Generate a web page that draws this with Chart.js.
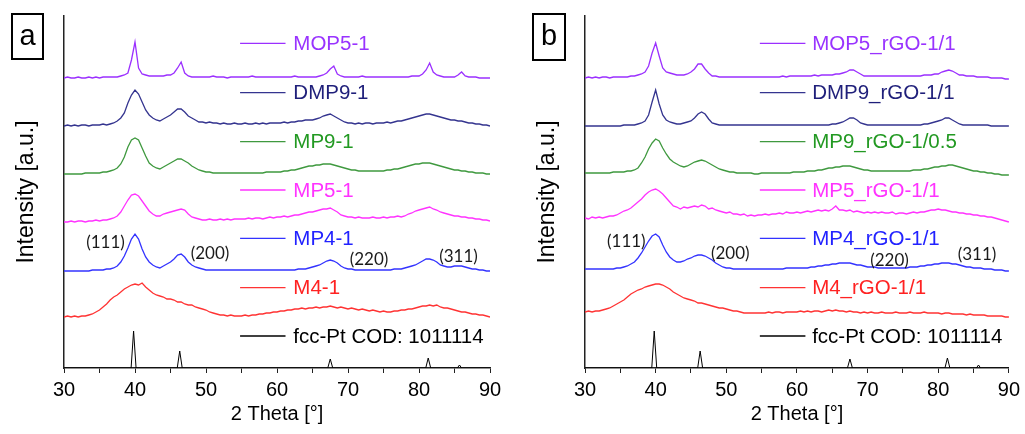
<!DOCTYPE html>
<html><head><meta charset="utf-8">
<script src="https://cdn.jsdelivr.net/npm/chart.js@4/dist/chart.umd.min.js"></script>
<style>
html,body{margin:0;padding:0;background:#fff;}
#wrap{position:relative;width:1025px;height:434px;overflow:hidden;}
#chartA{position:absolute;left:0;top:0;}
#chartB{position:absolute;left:512px;top:0;}
</style></head><body>
<div id="wrap"><canvas id="chartA" width="512" height="434"></canvas><canvas id="chartB" width="513" height="434"></canvas></div>
<script>
// ---------- DATA ----------
const twoTheta = [30,30.5,31,31.5,32,32.5,33,33.5,34,34.5,
 35,35.5,36,36.5,37,37.5,38,38.5,39,39.5,
 40,40.5,41,41.5,42,42.5,43,43.5,44,44.5,
 45,45.5,46,46.5,47,47.5,48,48.5,49,49.5,
 50,50.5,51,51.5,52,52.5,53,53.5,54,54.5,
 55,55.5,56,56.5,57,57.5,58,58.5,59,59.5,
 60,60.5,61,61.5,62,62.5,63,63.5,64,64.5,
 65,65.5,66,66.5,67,67.5,68,68.5,69,69.5,
 70,70.5,71,71.5,72,72.5,73,73.5,74,74.5,
 75,75.5,76,76.5,77,77.5,78,78.5,79,79.5,
 80,80.5,81,81.5,82,82.5,83,83.5,84,84.5,
 85,85.5,86,86.5,87,87.5,88,88.5,89,89.5,
 90];
const xTicks = [30,40,50,60,70,80,90];

const namesA = ['MOP5-1','DMP9-1','MP9-1','MP5-1','MP4-1','M4-1'];
const namesB = ['MOP5_rGO-1/1','DMP9_rGO-1/1','MP9_rGO-1/0.5','MP5_rGO-1/1','MP4_rGO-1/1','M4_rGO-1/1'];
const refName = 'fcc-Pt COD: 1011114';
const offsets = [290,242,194,146,97,51];

const a_MOP5 = [0,1,0,0,1,0,0,1,0,1, 0,1,1,1,1,1,2,3,5,18, 36,10,4,3,2,2,2,2,2,3, 3,5,10,16,5,2,1,1,1,1,
 1,1,2,1,1,1,0,1,1,1, 1,1,1,2,1,1,1,1,1,1, 1,1,1,1,1,2,1,1,1,1, 1,1,2,3,5,9,12,4,2,1,
 1,1,1,1,2,1,1,1,1,1, 1,1,1,1,1,1,1,1,2,2, 2,4,8,15,6,3,2,1,1,1, 1,3,6,2,1,1,1,0,0,0, 0];
const a_DMP9 = [0,1,0,1,0,1,1,0,1,1, 1,2,1,2,3,5,8,13,23,31, 36,32,24,16,11,8,6,5,7,9, 11,14,17,17,14,10,8,6,4,4,
 3,4,3,3,2,3,2,2,3,2, 2,3,2,2,3,2,3,2,3,3, 3,3,4,3,4,4,5,5,6,6, 6,7,8,10,11,12,10,8,6,4,
 3,3,2,3,2,3,3,2,3,3, 3,4,3,4,5,5,6,7,8,9, 10,11,12,12,11,10,9,8,7,6, 6,5,5,4,3,3,2,2,1,1, 0];
const a_MP9 = [0,0,0,0,0,0,1,1,1,1, 1,2,2,3,4,6,10,17,27,34, 36,34,26,18,11,8,6,5,7,9, 11,13,15,15,13,11,8,6,4,3,
 2,2,1,1,1,1,1,1,1,1, 1,1,1,1,1,1,1,2,2,2, 2,2,3,3,4,4,5,6,7,8, 8,9,9,10,10,10,9,8,7,6,
 5,4,4,3,3,3,3,3,3,3, 3,4,4,5,5,6,7,8,9,10, 10,11,11,11,10,9,8,7,6,5, 4,4,3,3,2,2,1,1,1,0, 0];
const a_MP5 = [0,0,1,0,1,1,0,1,1,2, 1,2,2,3,4,6,10,16,22,27, 28,26,21,16,11,8,6,6,8,9, 10,11,12,13,12,8,5,4,3,2,
 2,3,2,2,3,2,3,2,3,3, 3,3,4,3,4,4,3,4,5,4, 5,5,6,5,6,7,7,8,9,10, 10,11,12,13,13,14,12,10,7,6,
 5,5,4,5,4,4,4,5,4,4, 5,4,5,5,6,5,6,8,9,11, 12,13,14,15,13,12,10,9,8,7, 6,6,5,5,4,4,3,3,2,2, 1];
const a_MP4 = [0,0,0,0,0,0,0,0,1,1, 1,1,2,2,3,5,9,15,23,32, 37,32,22,14,9,6,4,3,5,7, 9,12,16,17,14,9,6,4,3,2,
 1,1,1,1,1,1,1,1,1,1, 1,1,1,1,1,1,1,1,1,1, 1,1,1,1,1,1,2,2,2,3, 4,5,6,8,10,11,10,8,5,3,
 2,2,1,1,1,1,1,1,1,1, 1,1,1,2,2,2,3,4,5,6, 8,10,12,12,11,9,6,5,4,4, 5,5,5,4,3,2,2,1,1,0, 0];
const a_M4 = [0,1,0,1,0,1,1,2,3,5, 7,10,13,17,20,22,25,28,30,32, 33,32,34,30,27,24,22,21,20,18, 18,17,15,15,13,12,12,10,9,8,
 7,5,4,3,2,2,1,2,1,1, 1,2,1,2,2,3,3,4,4,5, 5,6,6,7,7,8,8,9,8,9, 9,10,9,10,10,11,10,9,10,9,
 8,9,8,7,8,7,6,7,6,5, 6,5,5,6,6,7,7,8,8,9, 10,11,11,12,11,12,10,9,9,8, 7,6,5,5,4,3,3,2,2,1, 0];

const b_MOP5 = [0,1,0,1,0,1,1,0,1,1, 1,1,1,2,2,3,4,6,12,25, 35,22,10,6,5,4,3,3,3,4, 6,9,14,14,9,5,2,2,1,1,
 1,1,1,1,1,1,1,1,1,1, 1,1,1,1,1,1,2,1,2,2, 2,2,2,2,2,3,2,3,3,3, 3,4,4,5,6,8,8,6,4,2,
 2,2,2,2,2,2,2,2,2,2, 2,2,2,2,2,2,3,3,3,4, 4,6,7,8,7,5,3,3,2,2, 2,1,1,1,1,0,0,0,0,-1, -1];
const b_DMP9 = [0,0,0,0,0,0,0,0,0,0, 0,1,1,1,1,2,3,5,11,24, 36,22,11,6,4,3,2,2,3,4, 5,8,12,14,12,7,3,2,1,1,
 1,1,1,1,1,1,1,1,1,1, 1,1,1,1,1,1,1,1,1,1, 1,1,1,1,1,1,1,1,1,1, 2,2,3,4,6,8,8,6,3,2,
 1,1,1,1,1,1,1,1,1,1, 1,1,1,1,1,1,2,2,3,4, 5,6,8,8,6,4,2,1,1,1, 1,1,1,1,1,0,0,0,0,0, 0];
const b_MP9 = [1,1,1,1,1,1,1,1,2,2, 2,2,3,3,4,6,11,17,25,31, 35,33,26,20,15,12,10,8,7,8, 10,12,13,14,13,11,9,7,5,4,
 3,2,2,1,1,1,1,1,0,0, 1,1,1,1,1,1,1,1,1,2, 2,2,2,3,3,3,4,4,5,6, 6,7,7,8,8,8,7,6,5,4,
 4,3,3,3,3,3,3,3,3,3, 3,3,3,4,4,4,5,5,6,7, 7,8,8,9,9,8,7,6,5,4, 3,3,2,2,1,1,0,0,-1,-1, -1];
const b_MP5 = [4,3,5,4,5,4,5,6,6,7, 9,11,12,14,17,20,23,27,30,32, 33,31,28,24,20,16,15,13,15,14, 15,16,15,17,16,13,14,12,11,10,
 9,10,8,8,7,8,6,7,6,7, 7,8,7,8,8,9,8,10,9,9, 10,9,10,11,10,11,12,11,12,11, 13,16,12,12,11,12,10,11,10,9,
 10,9,10,9,10,9,9,10,8,9, 9,8,9,10,9,10,10,11,12,12, 13,12,12,11,10,10,9,9,8,8, 7,7,6,6,5,5,4,3,2,1, 0];
const b_MP4 = [2,2,2,2,2,2,2,2,2,3, 3,4,5,7,9,13,18,24,30,35, 37,34,26,19,14,11,9,9,10,12, 13,15,16,16,15,13,11,8,6,4,
 3,3,2,2,2,2,2,2,2,2, 2,2,2,2,2,2,2,3,3,3, 3,3,3,3,4,4,5,5,6,6, 7,7,8,8,8,8,7,6,6,5,
 4,4,4,3,3,3,3,3,3,3, 3,3,4,4,4,5,5,6,6,7, 7,8,8,8,7,7,6,5,4,4, 3,3,3,2,2,2,1,1,1,0, 0];
const b_M4 = [5,6,5,6,6,7,8,9,11,13, 15,17,20,23,25,27,28,30,31,32, 33,33,32,30,28,25,23,21,19,18, 17,16,14,14,13,12,11,10,9,9,
 8,7,6,6,5,4,4,4,4,4, 4,4,5,4,5,5,4,5,5,5, 5,6,5,6,5,6,6,5,6,7, 6,7,6,6,5,6,5,5,4,5,
 4,5,4,4,5,4,4,4,5,4, 4,4,5,4,4,4,5,4,4,4, 4,3,4,4,3,3,3,3,2,3, 2,2,2,2,1,1,1,1,1,0, 0];

// fcc-Pt reference pattern (COD 1011114)
const refTheta     = [30,39.45,39.8,40.15,45.95,46.3,46.65,67.15,67.5,67.85,80.95,81.3,81.65,85.4,85.7,86.0,90];
const refIntensity = [0,0,37,0,0,17,0,0,9,0,0,10,0,0,3,0,0];

const hklLabels = ['(111)','(200)','(220)','(311)'];

// ---------- STYLE ----------
const lineColors = ['#9B30FF','#34348F','#3F993F','#FF33FF','#3333FF','#FF3333','#000000'];
const textColors = ['#9933FF','#1F1F7A','#229922','#FF33FF','#2222FF','#FF2222','#000000'];
const FONT = '"Liberation Sans", Arial, sans-serif';

const decor = {
  id: 'decor',
  afterDatasetsDraw(chart, args, o) {
    const {ctx, scales: {x, y}} = chart;
    ctx.save();
    o.names.forEach((n, i) => {
      const py = y.getPixelForValue(o.legendY[i]);
      ctx.strokeStyle = lineColors[i]; ctx.lineWidth = 1.3;
      ctx.beginPath();
      ctx.moveTo(x.getPixelForValue(o.legendX0), py);
      ctx.lineTo(x.getPixelForValue(o.legendX1), py);
      ctx.stroke();
      ctx.fillStyle = textColors[i];
      ctx.font = '20.5px ' + FONT;
      ctx.textAlign = 'left'; ctx.textBaseline = 'middle';
      ctx.fillText(n, x.getPixelForValue(o.legendTextX), py + 1);
    });
    ctx.font = '17px Lato, "Open Sans", sans-serif';
    ctx.fillStyle = '#1a1a1a'; ctx.textAlign = 'center'; ctx.textBaseline = 'middle';
    hklLabels.forEach((t, i) => ctx.fillText(t, x.getPixelForValue(o.hklX[i]), y.getPixelForValue(o.hklY[i])));
    const [bx, by, bw, bh] = o.box;
    ctx.lineWidth = 2; ctx.strokeStyle = '#000';
    ctx.strokeRect(bx, by, bw, bh);
    ctx.fillStyle = '#000'; ctx.font = '29px ' + FONT;
    ctx.fillText(o.letter, bx + bw / 2, by + bh / 2);
    ctx.restore();
  }
};

function build(id, names, series, yWidth, titlePad, rightPad, deco) {
  const datasets = names.map((n, i) => ({
    label: n,
    data: twoTheta.map((t, k) => ({x: t, y: series[i][k] + offsets[i]})),
    borderColor: lineColors[i], borderWidth: 1.3, pointRadius: 0, fill: false, tension: 0
  }));
  datasets.push({
    label: refName,
    data: refTheta.map((t, k) => ({x: t, y: refIntensity[k]})),
    borderColor: '#000', borderWidth: 1, pointRadius: 0, fill: false, tension: 0
  });
  return new Chart(document.getElementById(id), {
    type: 'line',
    data: {datasets},
    plugins: [decor],
    options: {
      responsive: false, animation: false,
      layout: {padding: {left: 0, right: rightPad, top: 16, bottom: 0}},
      plugins: {legend: {display: false}, tooltip: {enabled: false}, decor: deco},
      scales: {
        x: {
          type: 'linear', min: 30, max: 90,
          afterFit: s => { s.height = 66; },
          ticks: {stepSize: 5, autoSkip: false, maxRotation: 0, padding: 5, color: '#000',
                  font: {size: 20, family: FONT},
                  callback: v => xTicks.includes(v) ? String(v) : ''},
          grid: {display: true, drawOnChartArea: false, drawTicks: true, tickLength: 5, color: '#222', tickColor: '#222'},
          border: {display: true, color: '#222', width: 1.5},
          title: {display: true, text: '2 Theta [°]', color: '#000', font: {size: 20, family: FONT}, padding: {top: 0, bottom: 8}}
        },
        y: {
          type: 'linear', min: 0, max: 352,
          afterFit: s => { s.width = yWidth; },
          ticks: {display: false},
          grid: {display: false},
          border: {display: true, color: '#222', width: 1.5},
          title: {display: true, text: 'Intensity [a.u.]', color: '#000', font: {size: 23, family: FONT}, padding: {top: titlePad + 1, bottom: 0}}
        }
      }
    }
  });
}

const legendY = [324.7, 275.3, 226.3, 178, 129.7, 80.3, 32];
build('chartA', namesA, [a_MOP5, a_DMP9, a_MP9, a_MP5, a_MP4, a_M4], 64, 12, 22, {
  names: namesA.concat([refName]), legendY, legendX0: 54.8, legendX1: 61.2, legendTextX: 62.3,
  hklX: [35.85, 50.56, 72.96, 85.56], hklY: [125.5, 114.5, 108, 111.5],
  box: [12, 14, 31, 45], letter: 'a'
});
build('chartB', namesB, [b_MOP5, b_DMP9, b_MP9, b_MP5, b_MP4, b_M4], 73, 21, 13, {
  names: namesB.concat([refName]), legendY, legendX0: 54.75, legendX1: 61.2, legendTextX: 62.15,
  hklX: [35.85, 50.56, 73.1, 85.49], hklY: [126.5, 114.5, 107.5, 113.5],
  box: [21, 14, 32, 46], letter: 'b'
});
</script>
</body></html>
